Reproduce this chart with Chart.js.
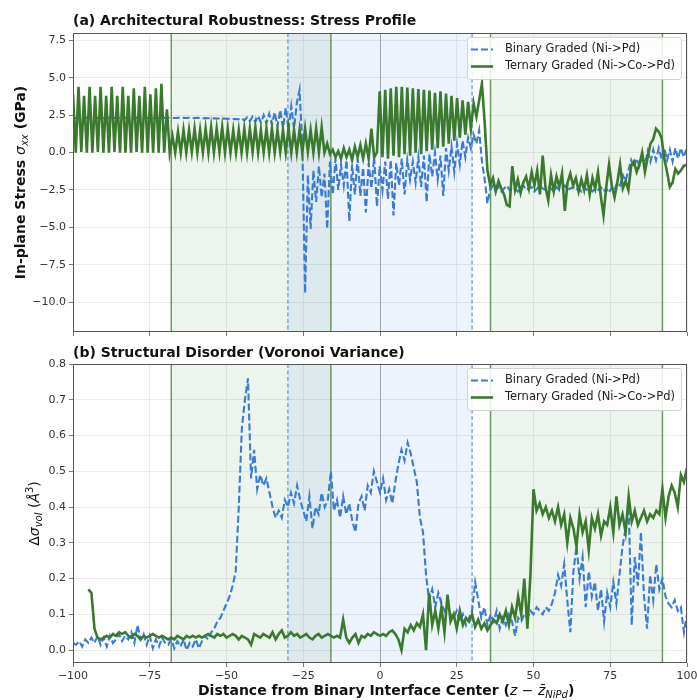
<!DOCTYPE html>
<html>
<head>
<meta charset="utf-8">
<script src="https://cdn.jsdelivr.net/npm/chart.js@4.4.1/dist/chart.umd.min.js"></script>
<style>
  html, body { margin: 0; padding: 0; background: #fff; }
  #wrap { position: relative; width: 697px; height: 700px; }
  canvas { position: absolute; left: 0; }
  #stressChart { top: 0; }
  #disorderChart { top: 345px; }
</style>
</head>
<body>
<div id="wrap">
  <canvas id="stressChart" width="697" height="345"></canvas>
  <canvas id="disorderChart" width="697" height="355"></canvas>
</div>
<script>
// sampling of the stress profile (z positions, 0.9 apart starting at -100)
const stressStart = -100;
const stressStep = 0.9;

const binaryStress = [
  2.32, 2.31, 2.33, 2.32, 2.31, 2.33, 2.32, 2.31, 2.33, 2.32,
  2.32, 2.31, 2.33, 2.32, 2.31, 2.33, 2.32, 2.31, 2.33, 2.32,
  2.32, 2.31, 2.33, 2.32, 2.31, 2.33, 2.32, 2.31, 2.33, 2.32,
  2.32, 2.31, 2.33, 2.32, 2.31, 2.33, 2.32, 2.31, 2.33, 2.32,
  2.32, 2.31, 2.33, 2.32, 2.31, 2.32, 2.31, 2.3, 2.31, 2.3,
  2.3, 2.29, 2.28, 2.28, 2.27, 2.27, 2.26, 2.25, 2.25, 2.24,
  2.23, 2.3, 2.15, 2.35, 2.1, 2.4, 2.05, 2.45, 2.0, 2.5,
  1.95, 2.6, 1.85, 2.7, 1.75, 2.85, 1.65, 3.0, 1.5, 3.1,
  1.6, 3.3, 4.2, 0.5, -9.4, -1.5, -5.1, -1.2, -3.3, -0.9,
  -3.0, -1.4, -5.1, -0.6, -2.8, -0.4, -2.5, -0.8, -2.2, -0.5,
  -4.6, -0.8, -2.8, -0.4, -2.9, -1.0, -4.0, -0.7, -2.4, -0.3,
  -3.6, -0.9, -2.5, -0.6, -3.1, -0.5, -4.2, -0.7, -2.2, -0.4,
  -2.8, -0.5, -1.8, -0.6, -2.0, -0.3, -2.3, -0.2, -3.3, -0.1,
  -1.6, 0.0, -1.8, -0.2, -2.9, 0.3, -1.2, 0.4, -1.3, 0.6,
  -0.8, 0.8, -0.3, 1.0, 0.3, 1.2, 0.6, 1.5, -0.6, -1.8,
  -3.4, -2.5, -2.2, -2.5, -2.3, -2.6, -2.4, -2.2, -2.5, -2.3,
  -2.4, -2.6, -2.3, -2.2, -2.5, -2.4, -2.3, -2.6, -2.4, -2.2,
  -2.4, -2.5, -2.3, -2.4, -2.6, -2.3, -2.5, -2.4, -2.2, -2.5,
  -2.4, -2.3, -2.5, -2.4, -2.6, -2.3, -2.5, -2.4, -2.6, -2.4,
  -2.5, -2.3, -2.6, -2.4, -2.7, -2.3, -2.5, -2.0, -2.2, -1.5,
  -1.9, -1.2, -0.5, -1.0, -0.4, -0.9, -0.2, -0.8, 0.1, -0.6,
  0.2, -0.5, 0.3, -0.4, 0.3, -0.5, 0.2, -0.6, 0.3, -0.4,
  0.3, -0.3, 0.2
];

const ternaryStress = [
  3.9, 0.0, 4.4, 0.05, 3.8, 0.0, 4.4, 0.0, 3.8, 0.05,
  4.4, 0.0, 3.8, 0.0, 4.4, 0.05, 3.8, 0.0, 4.4, 0.0,
  3.8, 0.0, 4.3, 0.05, 3.8, 0.0, 4.4, 0.0, 3.9, 0.0,
  4.3, 0.0, 4.6, 0.0, 2.9, 0.0, 1.1, 0.0, 1.4, 0.0,
  1.5, 0.0, 1.5, 0.05, 1.6, 0.0, 1.5, 0.0, 1.6, 0.0,
  1.7, 0.0, 1.6, 0.05, 1.7, 0.0, 1.6, 0.0, 1.5, 0.0,
  1.5, 0.0, 1.6, 0.0, 1.6, 0.05, 1.7, 0.0, 1.5, 0.0,
  1.6, 0.0, 1.6, 0.0, 1.5, 0.05, 1.5, 0.0, 1.6, 0.0,
  1.5, 0.0, 1.5, 0.0, 1.6, 0.05, 1.5, 0.0, 1.6, 0.0,
  1.7, 0.0, 0.6, -0.1, 0.2, -0.3, 0.1, -0.4, 0.3, -0.3,
  0.2, -0.5, 0.4, -0.3, 0.5, -0.4, 0.6, -0.4, 1.6, -0.3,
  0.0, 4.1, -0.3, 4.2, -0.4, 4.3, -0.2, 4.4, -0.3, 4.4,
  -0.1, 4.35, -0.2, 4.3, 0.0, 4.25, -0.1, 4.2, 0.1, 4.15,
  0.2, 4.0, 0.3, 4.1, 0.4, 3.95, 0.6, 3.8, 0.8, 3.65,
  1.0, 3.5, 1.2, 3.4, 1.6, 3.3, 2.4, 3.5, 4.6, 2.0,
  -1.2, -2.2, -1.7, -2.6, -1.9, -2.4, -2.8, -3.5, -3.6, -0.9,
  -2.5, -1.8, -2.7, -2.0, -1.6, -2.4, -1.3, -2.2, -1.2, -2.8,
  -0.2, -2.3, -3.2, -1.5, -2.6, -1.6, -2.3, -1.4, -3.9, -2.0,
  -1.4, -2.2, -1.7, -2.6, -1.8, -2.5, -1.5, -2.8, -1.7, -2.4,
  -1.3, -2.9, -4.2, -2.3, -0.8, -2.2, -3.0, -2.0, -0.8, -2.4,
  -1.9, -2.5, -0.9, -0.6, -1.3, -0.8, 0.0, -1.3, -0.3, 0.6,
  0.9, 1.6, 1.4, 1.0, -0.4, -1.3, -2.3, -2.0, -1.1, -1.4,
  -1.2, -0.9, -0.8
];

// Voronoi variance, one value per unit of z starting at -100
const disorderStart = -100;
const disorderStep = 1;

const binaryDisorder = [
  0.02, 0.015, 0.025, 0.01, 0.03, 0.02, 0.035, 0.02, 0.04, 0.015,
  0.035, 0.01, 0.04, 0.02, 0.03, 0.045, 0.025, 0.04, 0.03, 0.05,
  0.02, 0.07, 0.03, 0.045, 0.015, 0.04, 0.005, 0.03, 0.01, 0.035,
  0.02, 0.015, 0.03, 0.005, 0.025, 0.01, 0.03, 0.0, 0.02, 0.01,
  0.03, 0.005, 0.025, 0.04, 0.03, 0.05, 0.06, 0.08, 0.09, 0.11,
  0.13, 0.15, 0.18, 0.22, 0.40, 0.62, 0.70, 0.76, 0.48, 0.56,
  0.45, 0.49, 0.46, 0.48, 0.44, 0.40, 0.37, 0.39, 0.37, 0.42,
  0.40, 0.44, 0.41, 0.46, 0.42, 0.39, 0.36, 0.43, 0.34, 0.40,
  0.38, 0.44, 0.40, 0.42, 0.50, 0.39, 0.42, 0.37, 0.43, 0.38,
  0.41, 0.36, 0.33, 0.41, 0.43, 0.39, 0.46, 0.44, 0.50, 0.47,
  0.44, 0.48, 0.42, 0.45, 0.41, 0.47, 0.52, 0.56, 0.53, 0.58,
  0.55, 0.51, 0.47, 0.37, 0.33, 0.21, 0.14, 0.17, 0.12, 0.16,
  0.13, 0.11, 0.13, 0.10, 0.09, 0.11, 0.08, 0.10, 0.07, 0.09,
  0.11, 0.19, 0.14, 0.09, 0.12, 0.07, 0.10, 0.08, 0.11, 0.06,
  0.09, 0.07, 0.10, 0.08, 0.04, 0.09, 0.08, 0.10, 0.09, 0.11,
  0.10, 0.12, 0.11, 0.10, 0.12, 0.11, 0.13, 0.16, 0.21, 0.18,
  0.24, 0.14, 0.05, 0.22, 0.29, 0.20, 0.26, 0.12, 0.22, 0.15,
  0.19, 0.11, 0.17, 0.08, 0.16, 0.12, 0.19, 0.13, 0.21, 0.29,
  0.34, 0.40, 0.07, 0.26, 0.18, 0.33, 0.15, 0.06, 0.21, 0.14,
  0.24, 0.17, 0.20, 0.15, 0.13, 0.12, 0.14, 0.11, 0.12, 0.05,
  0.10
];

const ternaryDisorder = [
  null, null, null, null, null, 0.17, 0.16, 0.06, 0.035, 0.03,
  0.035, 0.04, 0.035, 0.045, 0.04, 0.05, 0.045, 0.05, 0.04, 0.035,
  0.045, 0.04, 0.03, 0.04, 0.035, 0.04, 0.045, 0.04, 0.035, 0.04,
  0.035, 0.03, 0.035, 0.03, 0.04, 0.035, 0.03, 0.04, 0.035, 0.04,
  0.035, 0.04, 0.035, 0.04, 0.045, 0.04, 0.035, 0.045, 0.04, 0.045,
  0.035, 0.04, 0.045, 0.04, 0.03, 0.04, 0.035, 0.03, 0.015, 0.045,
  0.04, 0.035, 0.045, 0.04, 0.035, 0.05, 0.03, 0.045, 0.055, 0.035,
  0.04, 0.05, 0.04, 0.045, 0.035, 0.04, 0.045, 0.035, 0.03, 0.04,
  0.045, 0.035, 0.04, 0.045, 0.04, 0.035, 0.04, 0.035, 0.085, 0.035,
  0.02, 0.035, 0.045, 0.02, 0.04, 0.035, 0.045, 0.04, 0.05, 0.045,
  0.04, 0.045, 0.04, 0.05, 0.055, 0.045, 0.03, 0.0, 0.06, 0.05,
  0.07, 0.055, 0.075, 0.065, 0.1, 0.0, 0.16, 0.07, 0.11, 0.06,
  0.12, 0.05, 0.155, 0.08, 0.1, 0.06, 0.11, 0.07, 0.09, 0.08,
  0.1, 0.065, 0.085, 0.06, 0.075, 0.055, 0.07, 0.085, 0.075, 0.1,
  0.08, 0.11, 0.07, 0.12, 0.09, 0.15, 0.1, 0.2, 0.06, 0.21,
  0.45, 0.39, 0.41, 0.38, 0.40, 0.37, 0.39, 0.36, 0.40, 0.35,
  0.38, 0.30, 0.37, 0.34, 0.29, 0.38, 0.33, 0.36, 0.28, 0.37,
  0.34, 0.38, 0.32, 0.36, 0.35, 0.40, 0.33, 0.43, 0.35, 0.38,
  0.33, 0.43, 0.36, 0.39, 0.35, 0.37, 0.39, 0.36, 0.38, 0.37,
  0.39, 0.38, 0.45, 0.37, 0.43, 0.46, 0.44, 0.40, 0.49, 0.47,
  0.51
];

const zTicks = [-100, -75, -50, -25, 0, 25, 50, 75, 100];
const stressTicks = [-10, -7.5, -5, -2.5, 0, 2.5, 5, 7.5];
const disorderTicks = [0, 0.1, 0.2, 0.3, 0.4, 0.5, 0.6, 0.7, 0.8];

// layer boundaries (z)
const ternaryLayers = [[-68, -16], [36, 92]];
const binaryLayer = [-30, 30];

const FONT = "'DejaVu Sans', sans-serif";
const BLUE = '#3a7bd5';
const GREEN = '#3b7a2e';

function points(start, step, values) {
  return values.map((v, i) => ({ x: +(start + step * i).toFixed(2), y: v }));
}

function fmtMinus(v, digits) {
  const s = Math.abs(v).toFixed(digits);
  return v < -1e-9 ? '\u2212' + s : s;
}

// draws a run of text pieces with their own fonts (for sub/superscripts)
function drawRich(ctx, parts, x, y, align) {
  let w = 0;
  parts.forEach(p => { ctx.font = p.font; w += ctx.measureText(p.text).width; });
  let cx = align === 'center' ? x - w / 2 : x;
  ctx.textAlign = 'left';
  ctx.textBaseline = 'alphabetic';
  parts.forEach(p => {
    ctx.font = p.font;
    ctx.fillText(p.text, cx, y + (p.dy || 0));
    cx += ctx.measureText(p.text).width;
  });
}

const layerPlugin = {
  id: 'layers',
  beforeDatasetsDraw(chart) {
    const { ctx, chartArea: a, scales: { x } } = chart;
    ctx.save();
    ctx.beginPath();
    ctx.rect(a.left, a.top, a.width, a.height);
    ctx.clip();

    ternaryLayers.forEach(([lo, hi]) => {
      const x0 = x.getPixelForValue(lo), x1 = x.getPixelForValue(hi);
      ctx.fillStyle = 'rgba(60, 130, 50, 0.09)';
      ctx.fillRect(x0, a.top, x1 - x0, a.height);
    });
    const b0 = x.getPixelForValue(binaryLayer[0]), b1 = x.getPixelForValue(binaryLayer[1]);
    ctx.fillStyle = 'rgba(60, 120, 220, 0.09)';
    ctx.fillRect(b0, a.top, b1 - b0, a.height);

    // interface centre
    const xz = Math.round(x.getPixelForValue(0)) + 0.5;
    ctx.strokeStyle = 'rgba(110, 110, 110, 0.55)';
    ctx.lineWidth = 1;
    ctx.beginPath(); ctx.moveTo(xz, a.top); ctx.lineTo(xz, a.bottom); ctx.stroke();

    // binary boundaries
    ctx.strokeStyle = 'rgba(70, 130, 215, 0.85)';
    ctx.lineWidth = 1.2;
    ctx.setLineDash([4, 2.5]);
    binaryLayer.forEach(v => {
      const px = x.getPixelForValue(v);
      ctx.beginPath(); ctx.moveTo(px, a.top); ctx.lineTo(px, a.bottom); ctx.stroke();
    });
    ctx.setLineDash([]);

    // ternary boundaries
    ctx.strokeStyle = 'rgba(60, 120, 50, 0.75)';
    ctx.lineWidth = 1.5;
    ternaryLayers.flat().forEach(v => {
      const px = x.getPixelForValue(v);
      ctx.beginPath(); ctx.moveTo(px, a.top); ctx.lineTo(px, a.bottom); ctx.stroke();
    });
    ctx.restore();
  }
};

const panelPlugin = {
  id: 'panel',
  afterDraw(chart, args, opts) {
    const { ctx, chartArea: a } = chart;
    ctx.save();

    // frame
    ctx.strokeStyle = '#555';
    ctx.lineWidth = 1;
    ctx.strokeRect(Math.round(a.left) + 0.5, Math.round(a.top) + 0.5,
      Math.round(a.width) - 1, Math.round(a.height) - 1);

    // legend
    const ds = chart.data.datasets;
    ctx.font = `11.5px ${FONT}`;
    const textW = Math.max(...ds.map(d => ctx.measureText(d.label).width));
    const w = 4 + 22 + 12 + textW + 6;
    const h = 42;
    const left = a.right - 6 - w;
    const top = a.top + 4;
    ctx.fillStyle = 'rgba(255,255,255,0.85)';
    ctx.strokeStyle = '#d0d0d0';
    ctx.lineWidth = 1;
    ctx.beginPath();
    ctx.roundRect(left + 0.5, top + 0.5, w, h, 3);
    ctx.fill();
    ctx.stroke();
    ds.forEach((d, k) => {
      const y = top + 12.5 + k * 17;
      ctx.strokeStyle = d.borderColor;
      ctx.lineWidth = d.borderWidth;
      ctx.setLineDash(d.borderDash || []);
      ctx.beginPath(); ctx.moveTo(left + 4, y); ctx.lineTo(left + 26, y); ctx.stroke();
      ctx.setLineDash([]);
      ctx.fillStyle = '#222';
      ctx.font = `11.5px ${FONT}`;
      ctx.textAlign = 'left';
      ctx.textBaseline = 'middle';
      ctx.fillText(d.label, left + 38, y);
    });

    // panel title
    ctx.fillStyle = '#111';
    ctx.font = `bold 14px ${FONT}`;
    ctx.textAlign = 'left';
    ctx.textBaseline = 'alphabetic';
    ctx.fillText(opts.title, a.left, opts.titleY);

    // y title (rotated)
    ctx.save();
    ctx.translate(opts.yTitleX, (a.top + a.bottom) / 2);
    ctx.rotate(-Math.PI / 2);
    drawRich(ctx, opts.yTitle, 0, 0, 'center');
    ctx.restore();

    // x title
    if (opts.xTitle) {
      drawRich(ctx, opts.xTitle, opts.xTitleX, opts.xTitleY, 'left');
    }
    ctx.restore();
  }
};

function panelOptions(cfg) {
  return {
    responsive: false,
    animation: false,
    layout: { padding: { left: 0, right: 10, top: cfg.top, bottom: 0 } },
    plugins: {
      legend: { display: false },
      tooltip: { enabled: false },
      panel: cfg
    },
    scales: {
      x: {
        type: 'linear',
        min: -100,
        max: 100,
        afterBuildTicks: s => { s.ticks = zTicks.map(v => ({ value: v })); },
        afterFit: s => { s.height = cfg.xHeight; s.paddingLeft = 0; s.paddingRight = 0; },
        ticks: {
          display: cfg.showX,
          autoSkip: false,
          maxRotation: 0,
          padding: 3,
          color: '#333',
          font: { family: FONT, size: 11 },
          callback: v => fmtMinus(v, 0)
        },
        grid: { color: '#e6e6e6', lineWidth: 0.8, tickLength: 4, tickColor: '#555', drawTicks: true },
        border: { display: false }
      },
      y: {
        type: 'linear',
        min: cfg.yMin,
        max: cfg.yMax,
        afterBuildTicks: s => { s.ticks = cfg.yTicks.map(v => ({ value: v })); },
        afterFit: s => { s.width = 73; s.paddingTop = 0; s.paddingBottom = 0; },
        ticks: {
          padding: 3,
          color: '#333',
          font: { family: FONT, size: 11 },
          callback: v => fmtMinus(v, 1)
        },
        grid: { color: '#e6e6e6', lineWidth: 0.8, tickLength: 4, tickColor: '#555', drawTicks: true },
        border: { display: false }
      }
    }
  };
}

function seriesSets(binary, ternary) {
  return [
    {
      label: 'Binary Graded (Ni->Pd)',
      data: binary,
      borderColor: BLUE,
      borderWidth: 2.1,
      borderDash: [7, 3],
      pointRadius: 0,
      tension: 0,
      fill: false,
      order: 1
    },
    {
      label: 'Ternary Graded (Ni->Co->Pd)',
      data: ternary,
      borderColor: GREEN,
      borderWidth: 2.6,
      pointRadius: 0,
      tension: 0,
      fill: false,
      order: 0
    }
  ];
}

new Chart(document.getElementById('stressChart'), {
  type: 'line',
  data: {
    datasets: seriesSets(
      points(stressStart, stressStep, binaryStress),
      points(stressStart, stressStep, ternaryStress)
    )
  },
  options: panelOptions({
    top: 33,
    xHeight: 13,
    showX: false,
    yMin: -12,
    yMax: 8,
    yTicks: stressTicks,
    title: '(a) Architectural Robustness: Stress Profile',
    titleY: 25,
    yTitleX: 25,
    yTitle: [
      { text: 'In-plane Stress ', font: `bold 14px ${FONT}` },
      { text: '\u03c3', font: `italic 14px ${FONT}` },
      { text: 'xx', font: `italic 10px ${FONT}`, dy: 3 },
      { text: ' (GPa)', font: `bold 14px ${FONT}` }
    ]
  }),
  plugins: [layerPlugin, panelPlugin]
});

new Chart(document.getElementById('disorderChart'), {
  type: 'line',
  data: {
    datasets: seriesSets(
      points(disorderStart, disorderStep, binaryDisorder),
      points(disorderStart, disorderStep, ternaryDisorder)
    )
  },
  options: panelOptions({
    top: 19,
    xHeight: 37,
    showX: true,
    yMin: -0.036,
    yMax: 0.8,
    yTicks: disorderTicks,
    title: '(b) Structural Disorder (Voronoi Variance)',
    titleY: 12,
    yTitleX: 39,
    yTitle: [
      { text: '\u0394', font: `14px ${FONT}` },
      { text: '\u03c3', font: `italic 14px ${FONT}` },
      { text: 'vol', font: `italic 10px ${FONT}`, dy: 3 },
      { text: ' (', font: `14px ${FONT}` },
      { text: '\u00c5', font: `italic 14px ${FONT}` },
      { text: '3', font: `10px ${FONT}`, dy: -6 },
      { text: ')', font: `14px ${FONT}` }
    ],
    xTitleX: 198,
    xTitleY: 350,
    xTitle: [
      { text: 'Distance from Binary Interface Center (', font: `bold 14px ${FONT}` },
      { text: 'z', font: `italic 14px ${FONT}` },
      { text: ' \u2212 ', font: `14px ${FONT}` },
      { text: 'z\u0304', font: `italic 14px ${FONT}` },
      { text: 'NiPd', font: `italic 10px ${FONT}`, dy: 3 },
      { text: ')', font: `bold 14px ${FONT}` }
    ]
  }),
  plugins: [layerPlugin, panelPlugin]
});
</script>
</body>
</html>
